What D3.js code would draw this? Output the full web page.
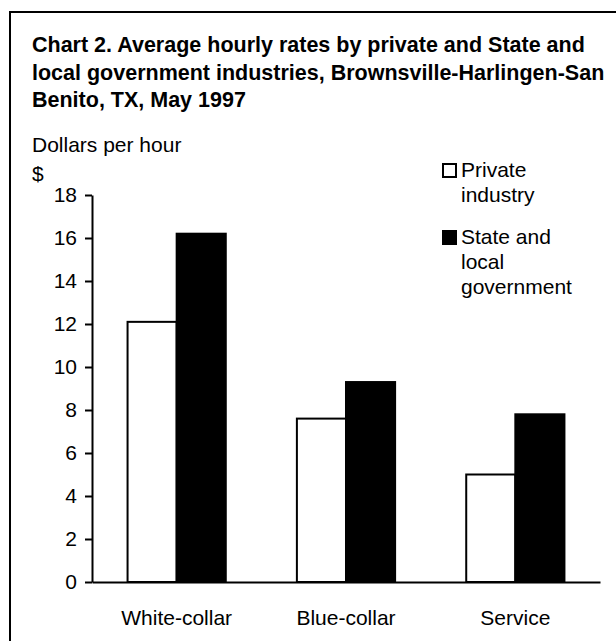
<!DOCTYPE html>
<html lang="en">
<head>
<meta charset="UTF-8">
<title>Chart 2</title>
<script src="https://cdnjs.cloudflare.com/ajax/libs/d3/7.8.2/d3.min.js"></script>
<style>
  html, body { margin: 0; padding: 0; background: #fff; }
  svg { display: block; font-family: "Liberation Sans", Arial, sans-serif; }
</style>
</head>
<body>
<div id="chart"></div>
<script>
const categories = ["White-collar", "Blue-collar", "Service"];
const seriesNames = ["Private industry", "State and local government"];
const privateValues = [12.1, 7.6, 5.0];
const stateValues = [16.2, 9.3, 7.8];
const yTicks = [0, 2, 4, 6, 8, 10, 12, 14, 16, 18];
const titleLines = [
  "Chart 2. Average hourly rates by private and State and",
  "local government industries, Brownsville-Harlingen-San",
  "Benito, TX, May 1997"
];
const legendLines = [["Private", "industry"], ["State and", "local", "government"]];

const width = 616, height = 641;
const margin = { top: 195, right: 16, bottom: 59, left: 92 };
const innerW = width - margin.left - margin.right;
const innerH = height - margin.top - margin.bottom;
const fs = 21;

const svg = d3.select("#chart").append("svg")
  .attr("width", width)
  .attr("height", height);

// outer frame (runs past right and bottom edges)
svg.append("rect")
  .attr("x", 10).attr("y", 12)
  .attr("width", 700).attr("height", 700)
  .attr("fill", "none").attr("stroke", "#000").attr("stroke-width", 2);

svg.append("g").selectAll("text")
  .data(titleLines)
  .join("text")
  .attr("x", 32)
  .attr("y", (d, i) => 52 + i * 27.5)
  .attr("font-size", 21.5)
  .attr("font-weight", "bold")
  .text(d => d);

svg.append("text").attr("x", 32).attr("y", 152).attr("font-size", fs).text("Dollars per hour");
svg.append("text").attr("x", 32).attr("y", 181).attr("font-size", fs).text("$");

const g = svg.append("g").attr("transform", `translate(${margin.left},${margin.top})`);

const x0 = d3.scaleBand().domain(categories).range([0, innerW]).paddingInner(0.42).paddingOuter(0.21);
const x1 = d3.scaleBand().domain(seriesNames).range([0, x0.bandwidth()]);
const y = d3.scaleLinear().domain([0, 18]).range([innerH, 0]);

const rows = categories.map((c, i) => ({ cat: c, vals: [privateValues[i], stateValues[i]] }));

const groups = g.selectAll("g.grp").data(rows).join("g")
  .attr("class", "grp")
  .attr("transform", d => `translate(${x0(d.cat)},0)`);

groups.selectAll("rect")
  .data(d => d.vals.map((v, j) => ({ key: seriesNames[j], v, j })))
  .join("rect")
  .attr("x", d => x1(d.key))
  .attr("y", d => y(d.v))
  .attr("width", x1.bandwidth())
  .attr("height", d => innerH - y(d.v))
  .attr("fill", d => d.j === 0 ? "#fff" : "#000")
  .attr("stroke", "#000")
  .attr("stroke-width", 2);

const yAxis = g.append("g")
  .call(d3.axisLeft(y).tickValues(yTicks).tickSize(7).tickPadding(8).tickSizeOuter(0));
yAxis.selectAll("text").attr("font-size", fs).attr("font-family", "Liberation Sans, Arial, sans-serif").attr("fill", "#000");
yAxis.selectAll("line,path").attr("stroke", "#000").attr("stroke-width", 2);

const xAxis = g.append("g")
  .attr("transform", `translate(0,${innerH})`)
  .call(d3.axisBottom(x0).tickSize(0).tickPadding(28).tickSizeOuter(0));
xAxis.select("path").attr("stroke", "#000").attr("stroke-width", 2);
xAxis.selectAll("text").attr("font-size", fs).attr("font-family", "Liberation Sans, Arial, sans-serif").attr("fill", "#000");

// legend
const legend = svg.append("g").attr("transform", "translate(442,163)");
const legItems = legend.selectAll("g").data(legendLines).join("g")
  .attr("transform", (d, i) => `translate(0,${i * 67})`);
legItems.append("rect")
  .attr("x", 1).attr("y", 1).attr("width", 13).attr("height", 13)
  .attr("fill", (d, i) => i === 0 ? "#fff" : "#000")
  .attr("stroke", "#000").attr("stroke-width", 2);
legItems.each(function(lines) {
  d3.select(this).selectAll("text").data(lines).join("text")
    .attr("x", 19)
    .attr("y", (d, k) => 14 + k * 25)
    .attr("font-size", fs)
    .text(d => d);
});
</script>
</body>
</html>
